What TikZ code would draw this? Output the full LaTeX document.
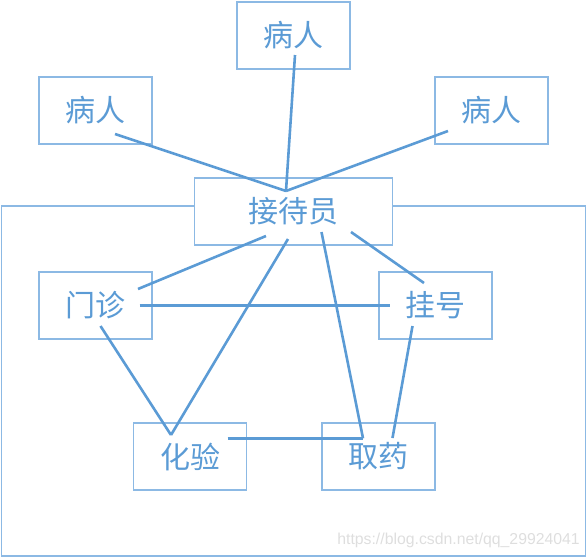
\documentclass[tikz,border=0pt]{standalone}
\usepackage{fontspec}
\newfontfamily\cjk{Noto Sans CJK SC}
\newfontfamily\wmfont{Liberation Sans}
\definecolor{lineblue}{RGB}{91,155,213}
\definecolor{boxblue}{RGB}{140,185,228}
\definecolor{wmgray}{RGB}{222,222,222}
\tikzset{
  box/.style={draw=boxblue, line width=1.3pt, fill=white, rectangle,
    minimum width=113pt, minimum height=67pt, inner sep=0pt,
    font=\cjk\fontsize{30}{33}\selectfont, text=lineblue},
  link/.style={draw=lineblue, line width=2.6pt},
  frame/.style={draw=boxblue, line width=1.3pt}
}
\begin{document}
\begin{tikzpicture}[x=1pt,y=-1pt]
\useasboundingbox (0,0) rectangle (587,558);
% outer frame
\draw[frame] (1.5,206) rectangle (585.5,556);
% boxes
\node[box] (p1) at (293.5,35.5) {病人};
\node[box] (p2) at (95.5,110.5) {病人};
\node[box] (p3) at (491.5,110.5) {病人};
\node[box, minimum width=198pt] (jd) at (293.5,211.5) {接待员};
\node[box] (mz) at (95.5,305.5) {门诊};
\node[box] (gh) at (435.5,305.5) {挂号};
\node[box] (hy) at (190,456.5) {化验};
\node[box] (qy) at (378.5,456.5) {取药};
% connector end points
\coordinate (jdTop) at (286,191);
\coordinate (p1a) at (295,55);
\coordinate (p2a) at (115,134);
\coordinate (p3a) at (448,131);
\coordinate (jdA) at (266,236);
\coordinate (jdB) at (288,239);
\coordinate (jdC) at (321.5,232);
\coordinate (jdD) at (351,232);
\coordinate (mzA) at (138,289);
\coordinate (mzB) at (100.5,326);
\coordinate (mzC) at (139.5,305.5);
\coordinate (ghA) at (390,305.5);
\coordinate (ghB) at (424,283);
\coordinate (ghC) at (412.5,326);
\coordinate (hyA) at (171,435);
\coordinate (hyB) at (227.5,438.3);
\coordinate (qyA) at (363,438.3);
\coordinate (qyB) at (392.5,438);
% connectors
\draw[link] (p2a) -- (jdTop);
\draw[link] (p1a) -- (jdTop);
\draw[link] (p3a) -- (jdTop);
\draw[link] (jdA) -- (mzA);
\draw[link] (jdB) -- (hyA);
\draw[link] (mzB) -- (hyA);
\draw[link] (mzC) -- (ghA);
\draw[link] (jdC) -- (qyA);
\draw[link] (jdD) -- (ghB);
\draw[link] (ghC) -- (qyB);
\draw[link] (hyB) -- (qyA);
% watermark
\node[anchor=east, text=wmgray, font=\wmfont\fontsize{15.8}{17}\selectfont, inner sep=0pt] (wm) at (580,540) {https://blog.csdn.net/qq\_29924041};
\end{tikzpicture}
\end{document}
